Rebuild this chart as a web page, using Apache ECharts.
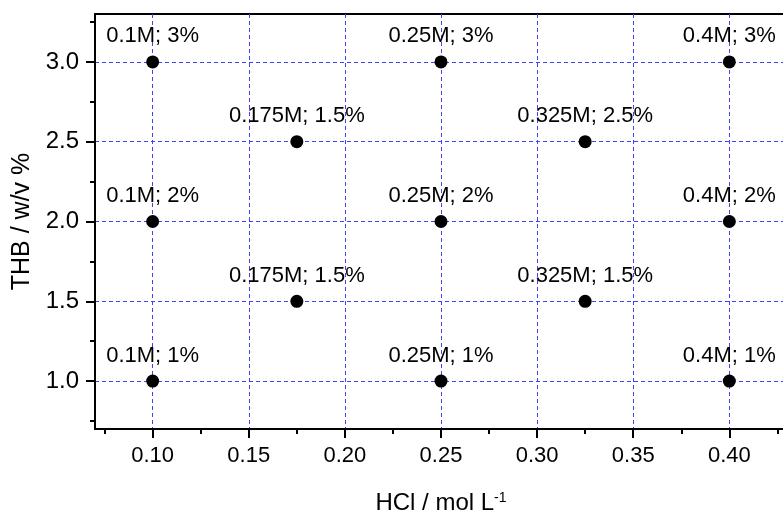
<!DOCTYPE html>
<html>
<head>
<meta charset="utf-8">
<script src="https://cdn.jsdelivr.net/npm/echarts@6/dist/echarts.min.js"></script>
<style>html,body{margin:0;padding:0;background:#fff;}#c{width:783px;height:514px;}</style>
</head>
<body>
<div id="c"></div>
<script>
const xTickValues = [0.10, 0.15, 0.20, 0.25, 0.30, 0.35, 0.40];
const xMinorValues = [0.075, 0.125, 0.175, 0.225, 0.275, 0.325, 0.375, 0.425];
const yTickValues = [1.0, 1.5, 2.0, 2.5, 3.0];
const yMinorValues = [0.75, 1.25, 1.75, 2.25, 2.75, 3.25];
const hclValues = [0.10, 0.25, 0.40, 0.175, 0.325, 0.10, 0.25, 0.40, 0.175, 0.325, 0.10, 0.25, 0.40];
const thbValues = [3.0, 3.0, 3.0, 2.5, 2.5, 2.0, 2.0, 2.0, 1.5, 1.5, 1.0, 1.0, 1.0];
const pointLabels = ['0.1M; 3%', '0.25M; 3%', '0.4M; 3%', '0.175M; 1.5%', '0.325M; 2.5%',
  '0.1M; 2%', '0.25M; 2%', '0.4M; 2%', '0.175M; 1.5%', '0.325M; 1.5%',
  '0.1M; 1%', '0.25M; 1%', '0.4M; 1%'];
const xName = 'HCl / mol L';
const xNameSup = '-1';
const yName = 'THB / w/v %';

const FONT = '"Liberation Sans", Arial, sans-serif';
const gridColor = '#4040ff';
const xMin = 0.07, xMax = 0.43, yMin = 0.7, yMax = 3.3;

const chart = echarts.init(document.getElementById('c'));
chart.setOption({
  animation: false,
  backgroundColor: '#fff',
  textStyle: { fontFamily: FONT },
  grid: { left: 95, top: 14, width: 692, height: 415, show: true, borderColor: '#000', borderWidth: 2, backgroundColor: 'transparent', containLabel: false, outerBoundsMode: 'none' },
  xAxis: [{
    type: 'value', min: xMin, max: xMax, position: 'bottom',
    axisLine: { show: true, onZero: false, lineStyle: { color: '#000', width: 2 } },
    axisTick: { show: true, inside: false, length: 9, customValues: xTickValues, lineStyle: { color: '#000', width: 2 } },
    axisLabel: { customValues: xTickValues, formatter: v => v.toFixed(2), color: '#000', fontSize: 22, fontFamily: FONT, margin: 16 },
    splitLine: { show: true, lineStyle: { color: gridColor, type: [4, 3], width: 1 } },
    name: '{a|' + xName + '}{b|' + xNameSup + '}', nameLocation: 'middle', nameGap: 62,
    nameTextStyle: { color: '#000', rich: { a: { fontSize: 24, fontFamily: FONT, color: '#000' }, b: { fontSize: 14, fontFamily: FONT, color: '#000', verticalAlign: 'top' } } }
  }, {
    type: 'value', min: xMin, max: xMax, position: 'bottom',
    axisLine: { show: false, onZero: false },
    axisTick: { show: true, inside: false, length: 5, customValues: xMinorValues, lineStyle: { color: '#000', width: 2 } },
    axisLabel: { show: false },
    splitLine: { show: false }
  }],
  yAxis: [{
    type: 'value', min: yMin, max: yMax, position: 'left',
    axisLine: { show: true, onZero: false, lineStyle: { color: '#000', width: 2 } },
    axisTick: { show: true, inside: false, length: 9, customValues: yTickValues, lineStyle: { color: '#000', width: 2 } },
    axisLabel: { customValues: yTickValues, formatter: v => v.toFixed(1), color: '#000', fontSize: 24, fontFamily: FONT, margin: 16 },
    splitLine: { show: true, lineStyle: { color: gridColor, type: [4, 3], width: 1 } },
    name: yName, nameLocation: 'middle', nameGap: 60,
    nameTextStyle: { color: '#000', fontSize: 25, fontFamily: FONT }
  }, {
    type: 'value', min: yMin, max: yMax, position: 'left',
    axisLine: { show: false, onZero: false },
    axisTick: { show: true, inside: false, length: 5, customValues: yMinorValues, lineStyle: { color: '#000', width: 2 } },
    axisLabel: { show: false },
    splitLine: { show: false }
  }],
  series: [{
    type: 'scatter', xAxisIndex: 0, yAxisIndex: 0,
    data: hclValues.map((x, i) => [x, thbValues[i]]),
    symbol: 'circle', symbolSize: 13,
    itemStyle: { color: '#000', opacity: 1 },
    label: { show: true, position: 'top', distance: 8, formatter: p => pointLabels[p.dataIndex], color: '#000', opacity: 1, fontSize: 22, fontFamily: FONT },
    z: 5
  }]
});
</script>
</body>
</html>
